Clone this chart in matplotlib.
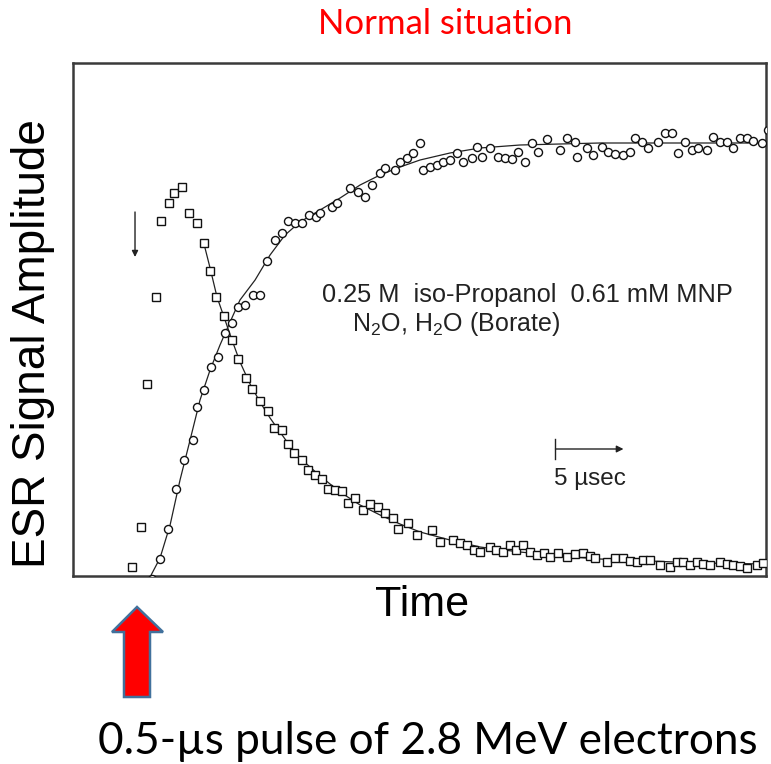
import matplotlib
matplotlib.use("Agg")
import matplotlib.pyplot as plt
from matplotlib.patches import Polygon

plt.rcParams['font.family'] = ['Liberation Sans', 'DejaVu Sans']
plt.rcParams['mathtext.fontset'] = 'custom'
plt.rcParams['mathtext.rm'] = 'Liberation Sans'
plt.rcParams['mathtext.it'] = 'Liberation Sans'
plt.rcParams['mathtext.default'] = 'regular'

# Radical (squares): rises after the pulse and decays away
square_t = [4.41, 5.07, 5.51, 6.18, 6.54, 7.13, 7.50, 8.09, 8.60, 9.19, 9.71, 10.15,
            10.59, 11.18, 11.76, 12.21, 12.79, 13.24, 13.82, 14.41, 14.85, 15.44,
            15.88, 16.32, 16.91, 17.35, 17.87, 18.38, 18.82, 19.34, 19.85, 20.29,
            20.81, 21.40, 21.91, 22.50, 23.01, 23.60, 23.97, 24.71, 25.37, 26.47,
            27.06, 28.01, 28.53, 29.04, 29.56, 30.00, 30.74, 31.18, 31.69, 32.21,
            32.65, 33.16, 33.68, 34.19, 34.71, 35.15, 35.74, 36.40, 36.99, 37.57,
            38.09, 38.46, 39.34, 39.93, 40.51, 41.03, 41.54, 41.99, 42.50, 43.24,
            43.97, 44.49, 44.93, 45.44, 45.96, 46.40, 46.91, 47.65, 48.16, 48.60,
            49.12, 49.63, 50.37, 50.81]
square_amp = [8, 48, 191, 278, 354, 372, 382, 388, 362, 352, 332, 304,
              278, 259, 235, 216, 197, 186, 174, 164, 147, 145,
              131, 122, 115, 105, 100, 96, 86, 85, 84, 72,
              77, 65, 71, 68, 62, 57, 46, 52, 40, 45,
              33, 35, 32, 30, 25, 23, 28, 25, 23, 30,
              25, 30, 23, 20, 22, 18, 22, 18, 21, 22,
              19, 17, 13, 17, 17, 14, 13, 15, 15, 10,
              8, 13, 13, 10, 13, 11, 10, 13, 11, 10,
              9, 7, 10, 12]

# Spin adduct (circles): grows in and levels off
circle_t = [5.88, 6.47, 7.06, 7.65, 8.24, 8.90, 9.19, 9.71, 10.22, 10.74, 11.25, 11.76,
            12.21, 12.72, 13.31, 13.82, 14.34, 14.93, 15.44, 15.88, 16.40, 16.91,
            17.43, 17.94, 18.24, 19.12, 19.49, 20.44, 21.03, 21.54, 22.06, 22.65,
            23.01, 23.75, 24.12, 24.63, 25.07, 25.59, 25.81, 26.32, 26.84, 27.28,
            27.79, 28.31, 28.75, 29.41, 29.78, 30.15, 30.74, 31.32, 31.84, 32.35,
            32.79, 33.31, 33.82, 34.26, 34.93, 35.88, 36.40, 36.99, 37.13, 37.87,
            38.31, 38.97, 39.41, 39.93, 40.51, 41.03, 41.40, 41.91, 42.35, 43.09,
            43.60, 44.12, 44.56, 45.07, 45.59, 46.03, 46.69, 47.13, 47.65, 48.16,
            48.60, 49.12, 49.63, 50.07, 50.74, 51.18]
circle_amp = [-4, 16, 46, 86, 115, 135, 168, 185, 208, 218, 242, 252,
              268, 270, 280, 280, 314, 335, 342, 354, 352, 352,
              360, 358, 362, 368, 372, 387, 383, 378, 390, 402,
              407, 405, 413, 417, 422, 432, 405, 408, 410, 413,
              415, 422, 413, 417, 428, 418, 427, 418, 417, 416,
              423, 413, 432, 423, 436, 425, 437, 433, 418, 427,
              420, 428, 423, 421, 420, 423, 437, 433, 427, 433,
              442, 442, 422, 433, 425, 427, 425, 438, 433, 433,
              427, 437, 437, 434, 432, 445]

# Fitted kinetic curves
fit_up_t = [5.74, 6.47, 7.21, 7.94, 8.68, 9.41, 10.15, 10.88, 11.62, 12.35, 13.46,
            14.56, 15.66, 16.76, 18.24, 19.71, 21.18, 22.65, 24.12, 25.59, 27.79,
            30.00, 32.94, 35.88, 38.82, 46.18, 51.18]
fit_up_amp = [-2, 17, 50, 95, 135, 175, 205, 230, 253, 275, 295,
              320, 340, 353, 365, 377, 390, 400, 408, 415, 422,
              427, 430, 431, 432, 432, 432]
fit_down_t = [9.63, 10.15, 10.66, 11.25, 11.76, 12.35, 13.09, 13.82, 14.56, 15.29,
              16.03, 16.76, 18.24, 19.71, 21.18, 22.65, 24.12, 25.59, 27.79, 30.00,
              32.94, 35.88, 38.82, 42.50, 46.18, 51.18]
fit_down_amp = [335, 307, 278, 255, 235, 213, 191, 173, 157, 143,
                129, 117, 99, 83, 70, 60, 51, 43, 35, 28,
                23, 19, 16, 14, 12, 11]

scale_bar_t = [35.55, 40.55]   # 5 microseconds
scale_bar_amp = 126
pulse_marker_t = 4.63

W, H = 771, 764
fig = plt.figure(figsize=(W / 100, H / 100), dpi=100)
ax = fig.add_axes([73 / W, 1 - 576 / H, 693 / W, 513 / H])

ax.plot(fit_up_t, fit_up_amp, color='#222222', lw=0.9, zorder=2)
ax.plot(fit_down_t, fit_down_amp, color='#222222', lw=0.9, zorder=2)
ax.plot(square_t, square_amp, ls='none', marker='s', ms=5.2, mfc='white',
        mec='#111111', mew=1.0, zorder=3)
ax.plot(circle_t, circle_amp, ls='none', marker='o', ms=5.8, mfc='white',
        mec='#111111', mew=1.0, zorder=3)

ax.set_xlim(0.07, 51.03)
ax.set_ylim(-1, 512)
ax.set_xticks([])
ax.set_yticks([])
for side in ax.spines.values():
    side.set_color('#3a3a3a')
    side.set_linewidth(1.8)

fig.text(33 / W, 1 - 344 / H, 'ESR Signal Amplitude', fontsize=33, rotation=90,
         ha='center', va='center')
fig.text(422 / W, 1 - 605 / H, 'Time', fontsize=31, ha='center', va='center')

# Sample description
ax.text(18.38, 280, '0.25 M  iso-Propanol  0.61 mM MNP', fontsize=18.3,
        ha='left', va='center', color='#222222')
ax.text(20.55, 251, r'N$_2$O, H$_2$O (Borate)', fontsize=18,
        ha='left', va='center', color='#222222')

# Time scale bar
ax.annotate('', xy=(scale_bar_t[1], scale_bar_amp), xytext=(scale_bar_t[0], scale_bar_amp),
            arrowprops=dict(arrowstyle='-|>', color='#222222', lw=1.0,
                            mutation_scale=10, shrinkA=0, shrinkB=0))
ax.plot([scale_bar_t[0], scale_bar_t[0]], [scale_bar_amp - 10, scale_bar_amp + 10],
        color='#222222', lw=1.0)
ax.text(sum(scale_bar_t) / 2, 96, '5 µsec', fontsize=17.5, ha='center', va='center',
        color='#222222')

# Small arrow marking the pulse
ax.annotate('', xy=(pulse_marker_t, 318), xytext=(pulse_marker_t, 363),
            arrowprops=dict(arrowstyle='-|>', color='#222222', lw=1.0,
                            mutation_scale=9, shrinkA=0, shrinkB=0))

fig.text(445 / W, 1 - 24 / H, 'Normal situation', color='#ff0000', fontsize=25,
         family=['Lato', 'DejaVu Sans'], ha='center', va='center')
fig.text(428 / W, 1 - 742 / H, '0.5-µs pulse of 2.8 MeV electrons', color='black',
         fontsize=31.8, family=['Lato', 'DejaVu Sans'], ha='center', va='center')

# Big red arrow for the electron pulse
arrow_px = [(137, 607), (112, 632), (124, 632), (124, 697), (150, 697), (150, 632), (163, 632)]
fig.patches.append(Polygon([(x / W, 1 - y / H) for x, y in arrow_px], closed=True,
                           facecolor='#ff0000', edgecolor='#41719c', lw=1.8,
                           transform=fig.transFigure, figure=fig))

fig.savefig('out.png', dpi=100)
